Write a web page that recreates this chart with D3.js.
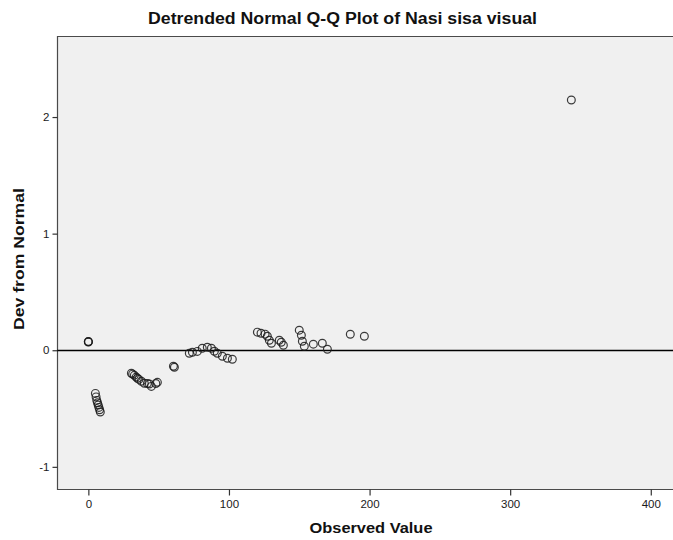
<!DOCTYPE html>
<html>
<head>
<meta charset="utf-8">
<script src="https://cdn.jsdelivr.net/npm/d3@7"></script>
<style>
  html, body { margin: 0; padding: 0; background: #fff; }
  svg { display: block; font-family: "Liberation Sans", Arial, sans-serif; }
</style>
</head>
<body>
<svg id="chart" width="673" height="540"></svg>
<script>
const title = "Detrended Normal Q-Q Plot of Nasi sisa visual";
const xLabel = "Observed Value";
const yLabel = "Dev from Normal";
const xTicks = [0, 100, 200, 300, 400];
const yTicks = [-1, 0, 1, 2];

const observed = [
  0, 0, 0,
  5, 5.5, 6, 6.5, 7, 7.5, 8, 8.5,
  30.6, 31.5, 32.7, 34, 34.9, 36, 37.7, 39.8, 42, 43.4, 44.8, 48, 49.1,
  60.5, 61.2,
  71.8, 74, 77.5, 81, 84.6, 87.5, 89.6, 91.7, 95.3, 98.9, 102.4,
  120.2, 122.8, 125.7, 127.3, 128.7, 130.2, 135.8, 137.2, 138.7,
  150, 151.5, 152.2, 153.6, 160, 166.4, 170,
  186.3, 196.3,
  343.5
];
const deviation = [
  0.075, 0.07, 0.072,
  -0.37, -0.40, -0.43, -0.45, -0.47, -0.49, -0.51, -0.53,
  -0.197, -0.205, -0.215, -0.23, -0.24, -0.25, -0.266, -0.283, -0.285, -0.29, -0.31, -0.285, -0.275,
  -0.137, -0.146,
  -0.026, -0.017, -0.01, 0.017, 0.026, 0.017, -0.009, -0.026, -0.052, -0.069, -0.077,
  0.155, 0.146, 0.138, 0.12, 0.086, 0.06, 0.086, 0.069, 0.043,
  0.172, 0.129, 0.077, 0.034, 0.052, 0.06, 0.009,
  0.137, 0.12,
  2.146
];

const svg = d3.select("#chart");
const plot = { left: 57, right: 673, top: 36, bottom: 489 };

const x = d3.scaleLinear().domain([-22.3, 415.8]).range([plot.left, plot.right]);
const y = d3.scaleLinear().domain([-1.19, 2.695]).range([plot.bottom, plot.top]);

// plot background
svg.append("rect")
  .attr("x", plot.left).attr("y", plot.top)
  .attr("width", plot.right - plot.left).attr("height", plot.bottom - plot.top)
  .attr("fill", "#f0f0f0");

// frame lines (top, left, bottom)
svg.append("path")
  .attr("d", `M${plot.right},${plot.top + 0.5}H${plot.left + 0.5}V${plot.bottom + 0.5}H${plot.right}`)
  .attr("stroke", "#4a4a4a").attr("stroke-width", 1.2).attr("fill", "none");

// zero reference line
svg.append("line")
  .attr("x1", plot.left).attr("x2", plot.right)
  .attr("y1", Math.round(y(0)) + 0.5).attr("y2", Math.round(y(0)) + 0.5)
  .attr("stroke", "#000").attr("stroke-width", 1.3);

const fmt = d => String(d);

// axes
const xAxis = d3.axisBottom(x).tickValues(xTicks).tickFormat(fmt)
  .tickSize(6).tickPadding(4).tickSizeOuter(0);
const gx = svg.append("g").attr("transform", `translate(0,${plot.bottom + 0.5})`).call(xAxis);
gx.select(".domain").remove();
gx.selectAll("line").attr("stroke", "#333").attr("stroke-width", 1.2);
gx.selectAll("text").attr("fill", "#1a1a1a").attr("font-size", 11.5)
  .attr("font-family", "Liberation Sans, Arial, sans-serif");

const yAxis = d3.axisLeft(y).tickValues(yTicks).tickFormat(fmt)
  .tickSize(5).tickPadding(3).tickSizeOuter(0);
const gy = svg.append("g").attr("transform", `translate(${plot.left + 0.5},0)`).call(yAxis);
gy.select(".domain").remove();
gy.selectAll("line").attr("stroke", "#333").attr("stroke-width", 1.2);
gy.selectAll("text").attr("fill", "#1a1a1a").attr("font-size", 11.5)
  .attr("font-family", "Liberation Sans, Arial, sans-serif");

// points
const pts = observed.map((v, i) => ({ v, d: deviation[i] }));
svg.append("g").selectAll("circle").data(pts).join("circle")
  .attr("cx", p => x(p.v)).attr("cy", p => y(p.d))
  .attr("r", 3.9)
  .attr("fill", "none")
  .attr("stroke", "#1a1a1a")
  .attr("stroke-width", 1.2)
  .attr("stroke-opacity", 0.85);

// title
svg.append("text")
  .attr("x", 342.5).attr("y", 24)
  .attr("text-anchor", "middle")
  .attr("font-size", 16).attr("font-weight", "bold").attr("fill", "#111")
  .attr("textLength", 389).attr("lengthAdjust", "spacingAndGlyphs")
  .text(title);

// axis labels
svg.append("text")
  .attr("x", 371).attr("y", 533)
  .attr("text-anchor", "middle")
  .attr("font-size", 15.5).attr("font-weight", "bold").attr("fill", "#111")
  .attr("textLength", 123).attr("lengthAdjust", "spacingAndGlyphs")
  .text(xLabel);

svg.append("text")
  .attr("transform", `translate(24,259) rotate(-90)`)
  .attr("text-anchor", "middle")
  .attr("font-size", 15.5).attr("font-weight", "bold").attr("fill", "#111")
  .attr("textLength", 142).attr("lengthAdjust", "spacingAndGlyphs")
  .text(yLabel);
</script>
</body>
</html>
